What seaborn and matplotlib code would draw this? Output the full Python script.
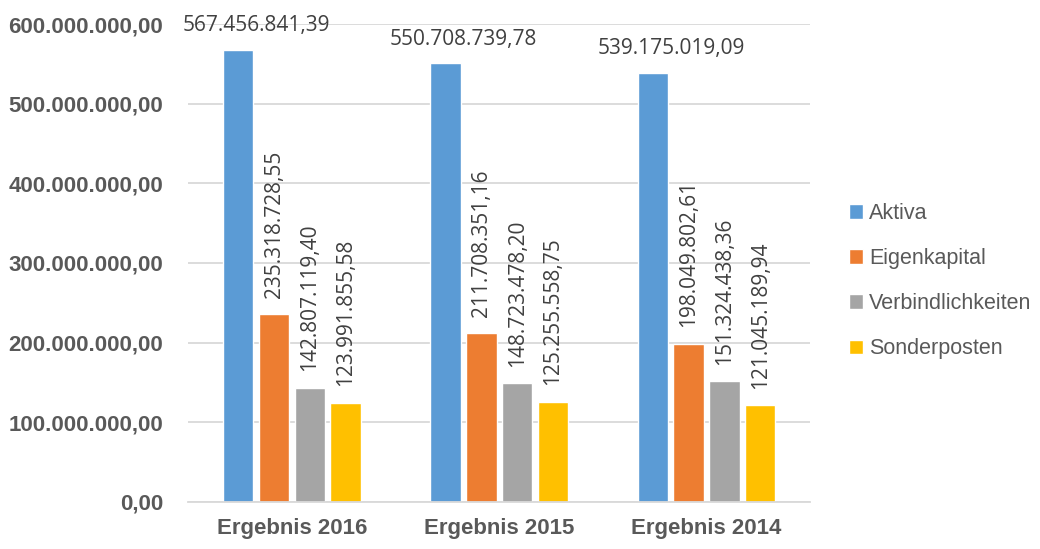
import pandas as pd
import matplotlib
matplotlib.use("Agg")
import matplotlib.pyplot as plt
import seaborn as sns

# data
years = ["Ergebnis 2016", "Ergebnis 2015", "Ergebnis 2014"]
series = ["Aktiva", "Eigenkapital", "Verbindlichkeiten", "Sonderposten"]
aktiva = [567456841.39, 550708739.78, 539175019.09]
eigenkapital = [235318728.55, 211708351.16, 198049802.61]
verbindlichkeiten = [142807119.40, 148723478.20, 151324438.36]
sonderposten = [123991855.58, 125255558.75, 121045189.94]
colors = ["#5B9BD5", "#ED7D31", "#A5A5A5", "#FFC000"]


def de_fmt(v):
    # German number format: 1.234.567,89
    s = f"{v:,.2f}"
    return s.replace(",", "X").replace(".", ",").replace("X", ".")


rows = []
for name, vals in zip(series, [aktiva, eigenkapital, verbindlichkeiten, sonderposten]):
    for year, v in zip(years, vals):
        rows.append({"Jahr": year, "Posten": name, "Wert": v})
df = pd.DataFrame(rows)

sns.set_theme(style="white")
plt.rcParams["font.family"] = ["Liberation Sans", "DejaVu Sans"]

fig = plt.figure(figsize=(10.4, 5.49), dpi=100)
ax = fig.add_axes([0.181, 0.086, 0.598, 0.87])

sns.barplot(data=df, x="Jahr", y="Wert", hue="Posten", palette=colors,
            width=0.69, gap=0.15, ax=ax, legend=True, saturation=1)

ax.set_ylim(0, 600000000)
ax.set_yticks(range(0, 600000001, 100000000))
ax.set_yticklabels([de_fmt(t) for t in ax.get_yticks()], fontsize=16,
                   fontweight="bold", color="#595959")
ax.tick_params(axis="x", labelsize=16, labelcolor="#595959", length=0, pad=12)
ax.tick_params(axis="y", length=0, pad=18)
for lbl in ax.get_xticklabels():
    lbl.set_fontweight("bold")
ax.set_xlabel("")
ax.set_ylabel("")
ax.grid(axis="y", color="#D9D9D9", linewidth=1.3)
ax.set_axisbelow(True)
for side in ["top", "right", "left"]:
    ax.spines[side].set_visible(False)
ax.spines["bottom"].set_color("#D9D9D9")
ax.spines["bottom"].set_linewidth(1.3)

label_font = ["Open Sans", "DejaVu Sans"]
for i, cont in enumerate(ax.containers):
    for bar in cont:
        h = bar.get_height()
        x = bar.get_x() + bar.get_width() / 2
        if i == 0:
            ax.annotate(de_fmt(h), (x, h), xytext=(13, 10), textcoords="offset points",
                        ha="center", va="bottom", fontsize=15, color="#404040",
                        family=label_font)
        else:
            ax.annotate(de_fmt(h), (x, h), xytext=(0, 12), textcoords="offset points",
                        ha="center", va="bottom", rotation=90, fontsize=15,
                        color="#404040", family=label_font)

ax.legend(loc="center left", bbox_to_anchor=(1.032, 0.462), frameon=False,
          fontsize=15.5, handlelength=0.65, handleheight=0.65, handletextpad=0.25,
          labelspacing=1.12, labelcolor="#595959")

fig.savefig("out.png", dpi=100)
